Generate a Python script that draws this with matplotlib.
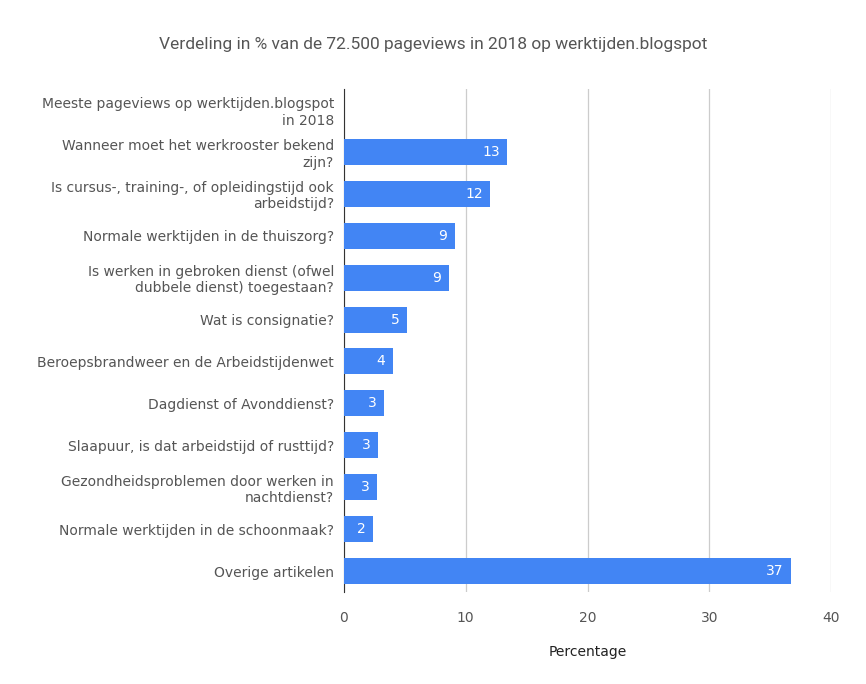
import matplotlib
matplotlib.use("Agg")
import matplotlib.pyplot as plt

categories = ["Meeste pageviews op werktijden.blogspot\nin 2018",
              "Wanneer moet het werkrooster bekend\nzijn?",
              "Is cursus-, training-, of opleidingstijd ook\narbeidstijd?",
              "Normale werktijden in de thuiszorg?",
              "Is werken in gebroken dienst (ofwel\ndubbele dienst) toegestaan?",
              "Wat is consignatie?",
              "Beroepsbrandweer en de Arbeidstijdenwet",
              "Dagdienst of Avonddienst?",
              "Slaapuur, is dat arbeidstijd of rusttijd?",
              "Gezondheidsproblemen door werken in\nnachtdienst?",
              "Normale werktijden in de schoonmaak?",
              "Overige artikelen"]
values = [None, 13.4, 12.0, 9.1, 8.6, 5.2, 4.0, 3.3, 2.8, 2.7, 2.4, 36.7]
ticks = [0, 10, 20, 30, 40]

plt.rcParams["font.family"] = "DejaVu Sans"
fig = plt.figure(figsize=(8.66, 6.84), dpi=100)
ax = fig.add_axes([0.397, 1 - 592 / 684, 0.563, 503 / 684])
ys = list(range(len(categories)))
for y, v in zip(ys, values):
    if v is None:
        continue
    ax.barh(y, v, height=0.62, color="#4285f4", zorder=3)
    ax.text(v - 0.6, y, f"{round(v):d}", ha="right", va="center",
            color="white", fontsize=10, zorder=4)
ax.set_yticks(ys)
ax.set_yticklabels(categories, fontsize=10, color="#555555")
ax.set_ylim(len(categories) - 0.5, -0.5)
ax.set_xlim(0, 40)
ax.set_xticks(ticks)
ax.set_xticklabels([str(t) for t in ticks], fontsize=10, color="#555555")
ax.grid(axis="x", color="#cccccc", linewidth=0.9, zorder=0)
for s in ["top", "right", "bottom"]:
    ax.spines[s].set_visible(False)
ax.spines["left"].set_color("#333333")
ax.tick_params(axis="y", length=0, pad=7)
ax.tick_params(axis="x", length=0, pad=14)
ax.set_xlabel("Percentage", fontsize=10, color="#222222", labelpad=14)
fig.text(0.5, 0.928, "Verdeling in % van de 72.500 pageviews in 2018 op werktijden.blogspot",
         ha="center", fontsize=12.5, color="#555555", family="Roboto")
fig.savefig("out.png", dpi=100, facecolor="white")
